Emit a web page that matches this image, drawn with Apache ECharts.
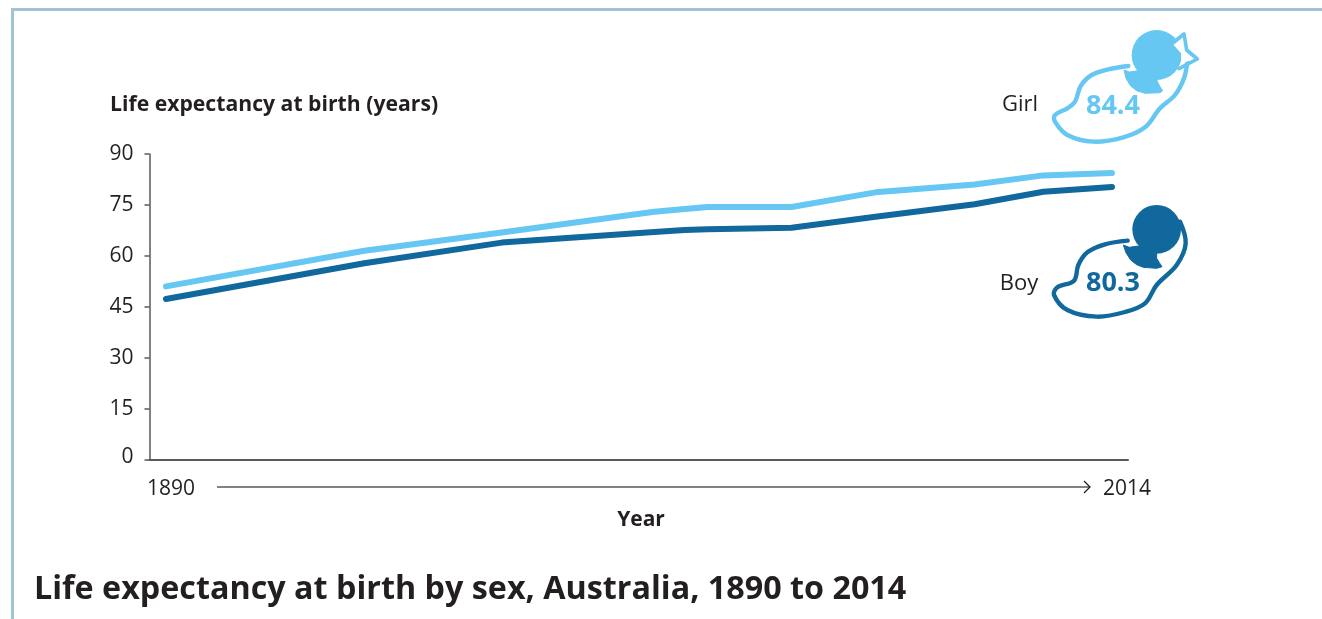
<!DOCTYPE html>
<html>
<head>
<meta charset="utf-8">
<style>html,body{margin:0;padding:0;background:#fff}#chart{width:1322px;height:619px}</style>
<script src="https://cdn.jsdelivr.net/npm/echarts@6/dist/echarts.min.js"></script>
</head>
<body>
<div id="chart"></div>
<script>
// Life expectancy at birth, Australia
const years = [1890, 1916, 1934, 1954, 1958, 1961, 1972, 1983, 1996, 2005, 2014];
const girlValues = [51.0, 61.5, 66.9, 73.0, 73.8, 74.4, 74.4, 78.7, 81.0, 83.7, 84.4];
const boyValues = [47.3, 57.8, 63.9, 67.0, 67.6, 67.8, 68.3, 71.5, 75.2, 78.9, 80.3];
const yTicks = [0, 15, 30, 45, 60, 75, 90];
const periodLabels = ['1890', '2014'];
const seriesNames = ['Girl', 'Boy'];
const endLabels = ['84.4', '80.3'];

const GIRL = '#65c7f2', BOY = '#11689d', INK = '#231f20', RULE = '#58595b', FRAME = '#a0c4d3';
const FONT = '"Open Sans", sans-serif';

const pair = (xs, ys) => xs.map((x, i) => [x, ys[i]]);

// Figure outlines are sketched on a 3x grid, anchored at the figure's corner.
const scaled = (ox, oy, pts) => pts.map(p => [ox + p[0] / 3, oy + p[1] / 3]);

function figure(ox, oy, color, outline, body, head) {
  return [
    { type: 'polyline', z: 5, shape: { points: scaled(ox, oy, outline), smooth: 0.35 },
      style: { stroke: color, lineWidth: 4.4, fill: null, lineCap: 'round', lineJoin: 'round' } },
    { type: 'polygon', z: 6, shape: { points: scaled(ox, oy, body) },
      style: { fill: color, stroke: color, lineWidth: 1, lineJoin: 'round' } },
    { type: 'circle', z: 7, shape: { cx: ox + head[0] / 3, cy: oy + head[1] / 3, r: head[2] / 3 },
      style: { fill: color } }
  ];
}

function label(text, x, y, font, fill, align) {
  return { type: 'text', z: 10, style: { text, x, y, font, fill, textAlign: align || 'center', textVerticalAlign: 'middle' } };
}

const girlOutline = [[445,138],[385,148],[335,165],[302,198],[285,245],[262,265],[225,285],[225,305],[262,345],[340,365],[430,352],[495,322],[540,265],[585,225],[612,175],[622,125]];
const girlBody = [[432,150],[448,156],[475,152],[530,170],[532,185],[540,200],[548,212],[540,218],[495,220],[470,212],[452,198],[438,175]];
const boyOutline = [[443,152],[375,163],[322,187],[295,225],[282,272],[232,292],[222,315],[262,360],[350,380],[435,366],[495,340],[530,285],[590,225],[617,160],[600,95]];
const boyBody = [[430,165],[448,172],[475,168],[530,182],[530,205],[538,218],[546,230],[530,235],[490,232],[470,224],[452,210],[438,188]];
const bowEdge = [[575,72],[612,42],[620,90],[652,117],[597,146]];
const bowFill = [[578,72],[610,48],[617,92],[640,117],[603,132],[603,100]];

const option = {
  animation: false,
  backgroundColor: '#fff',
  title: {
    text: 'Life expectancy at birth by sex, Australia, 1890 to 2014',
    left: 29, top: 569,
    textStyle: { fontFamily: FONT, fontWeight: 700, fontSize: 32.3, color: INK }
  },
  grid: { left: 149.5, right: 194, top: 154, height: 305.5, containLabel: false },
  xAxis: {
    type: 'value', min: 1887.84, max: 2016.1,
    axisLine: { show: true, onZero: false, lineStyle: { color: RULE, width: 2 } },
    axisTick: { show: false }, axisLabel: { show: false }, splitLine: { show: false }
  },
  yAxis: {
    type: 'value', min: 0, max: 90, interval: 15,
    axisLine: { show: true, lineStyle: { color: RULE, width: 1.5 } },
    axisTick: { show: true, length: 5, lineStyle: { color: RULE, width: 1.5 } },
    axisLabel: {
      margin: 16, fontFamily: FONT, fontSize: 21, color: INK,
      formatter: v => v === 0 ? '{base|0}' : (yTicks.includes(v) ? String(v) : ''),
      rich: { base: { fontFamily: FONT, fontSize: 21, color: INK, padding: [0, 0, 5, 0] } }
    },
    splitLine: { show: false }
  },
  series: [
    { name: seriesNames[0], type: 'line', data: pair(years, girlValues), showSymbol: false, z: 3,
      lineStyle: { color: GIRL, width: 6, cap: 'round', join: 'round' } },
    { name: seriesNames[1], type: 'line', data: pair(years, boyValues), showSymbol: false, z: 4,
      lineStyle: { color: BOY, width: 6, cap: 'round', join: 'round' } }
  ],
  graphic: [
    // Page frame along the top and left edges
    { type: 'polyline', shape: { points: [[12.5, 619], [12.5, 9.5], [1322, 9.5]] },
      style: { stroke: FRAME, lineWidth: 3, fill: null } },

    label('Life expectancy at birth (years)', 110, 105, '700 21.2px ' + FONT, INK, 'left'),
    label(periodLabels[0], 171, 489, '21px ' + FONT, INK),
    label(periodLabels[1], 1127, 489, '21px ' + FONT, INK),
    label('Year', 641, 520, '700 21px ' + FONT, INK),

    // Time arrow between the period labels
    { type: 'polyline', shape: { points: [[217, 487], [1090, 487]] },
      style: { stroke: RULE, lineWidth: 1.5, fill: null } },
    { type: 'polyline', shape: { points: [[1084, 481], [1090, 487], [1084, 493]] },
      style: { stroke: INK, lineWidth: 1.3, fill: null } },

    ...figure(980, 20, GIRL, girlOutline, girlBody, [530, 105, 75]),
    { type: 'polygon', z: 8, shape: { points: scaled(980, 20, bowFill) },
      style: { fill: '#fff' } },
    { type: 'polyline', z: 9, shape: { points: scaled(980, 20, bowEdge) },
      style: { stroke: GIRL, lineWidth: 3.6, fill: null, lineJoin: 'round', lineCap: 'round' } },
    ...figure(980, 190, BOY, boyOutline, boyBody, [530, 118, 73]),

    label(seriesNames[0], 1020, 105, '22px ' + FONT, INK),
    label(seriesNames[1], 1019, 284, '22px ' + FONT, INK),
    label(endLabels[0], 1113, 106, '700 27px ' + FONT, GIRL),
    label(endLabels[1], 1113, 283, '700 27px ' + FONT, BOY)
  ]
};

echarts.init(document.getElementById('chart'), null, { renderer: 'canvas' }).setOption(option);
</script>
</body>
</html>
